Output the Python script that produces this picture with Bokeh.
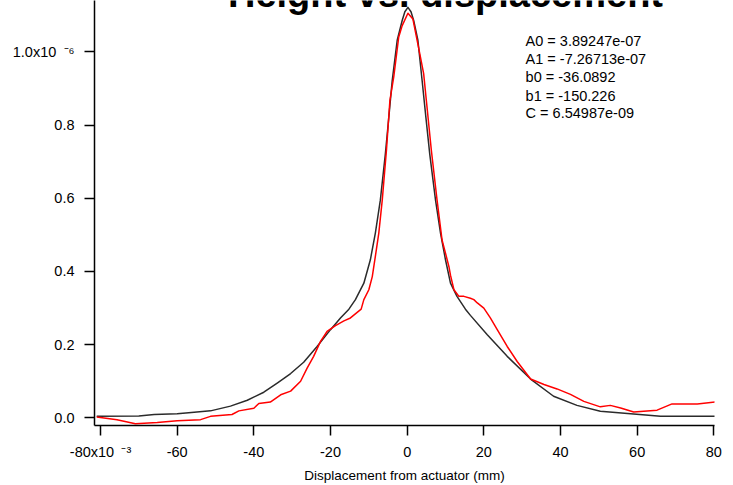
from bokeh.plotting import figure
from bokeh.models import Range1d, FixedTicker, CustomJSTickFormatter, Label
from bokeh.embed import file_html
from bokeh.resources import INLINE

# ---- data (x in mm, y in units of 1e-6) ----
fit_x = [-81, -70, -66, -60, -57, -51.3, -46.1, -41.7, -37.4, -33.9, -30.4, -27, -23.5,
         -20, -17.4, -15.2, -13.5, -11.3, -9.6, -8.3, -7.0, -5.7, -4.8, -3.9, -2.6, -1.3,
         -0.6, 0.2, 1.0, 1.7, 2.8, 3.9, 4.9, 5.9, 7.4, 8.7, 10, 11.3, 13, 15.2, 16.5, 20.9,
         26.1, 32.2, 38.2, 44.3, 50.4, 58.3, 66.1, 80.4]
fit_y = [0.0045, 0.0050, 0.0090, 0.0110, 0.0140, 0.019, 0.032, 0.048, 0.070, 0.095, 0.121,
         0.152, 0.195, 0.241, 0.273, 0.297, 0.323, 0.368, 0.432, 0.505, 0.595, 0.720, 0.820,
         0.922, 1.032, 1.086, 1.110, 1.122, 1.110, 1.086, 1.032, 0.922, 0.820, 0.720, 0.595,
         0.505, 0.432, 0.368, 0.332, 0.297, 0.280, 0.227, 0.168, 0.106, 0.059, 0.034, 0.018,
         0.011, 0.0044, 0.0044]

meas_x = [-81, -75.7, -70.9, -65.2, -60, -53.9, -51.3, -45.7, -43.9, -40, -38.7, -35.7, -33,
          -30.4, -27.8, -26.1, -24.4, -22.6, -20.9, -18.7, -16.5, -14.8, -12, -11.3, -10,
          -9.1, -8.3, -7.4, -6.5, -5.4, -4.5, -3.5, -2.2, -1.3, 0.2, 1.5, 3.3, 4.3, 5.0,
          6.3, 7.8, 9.1, 10, 10.9, 11.3, 12.2, 13.5, 14.8, 16.5, 17.4, 18.3, 20, 21.7,
          23.5, 26.1, 28.7, 32.2, 35.7, 39.1, 42.6, 46.1, 50.4, 53, 55.7, 59.1, 65.2,
          69.1, 75.7, 80.4]
meas_y = [0.002, -0.005, -0.016, -0.013, -0.008, -0.005, 0.004, 0.009, 0.019, 0.026, 0.039,
          0.043, 0.063, 0.073, 0.100, 0.136, 0.168, 0.209, 0.236, 0.252, 0.265, 0.273,
          0.297, 0.323, 0.350, 0.386, 0.441, 0.505, 0.595, 0.732, 0.868, 0.932, 1.041,
          1.072, 1.106, 1.090, 0.995, 0.941, 0.868, 0.732, 0.595, 0.486, 0.450, 0.413,
          0.390, 0.350, 0.332, 0.332, 0.327, 0.323, 0.314, 0.300, 0.273, 0.241, 0.195,
          0.154, 0.106, 0.091, 0.079, 0.064, 0.045, 0.030, 0.034, 0.027, 0.016, 0.021,
          0.038, 0.038, 0.043]

x_ticks = [-80, -60, -40, -20, 0, 20, 40, 60, 80]
y_ticks = [0.0, 0.2, 0.4, 0.6, 0.8, 1.0]

title_text = "Height vs. displacement"
x_title = "Displacement from actuator (mm)"
fit_params = ["A0 = 3.89247e-07", "A1 = -7.26713e-07", "b0 = -36.0892",
              "b1 = -150.226", "C = 6.54987e-09"]

FONT = "Liberation Sans"

p = figure(width=733, height=485, output_backend="svg", toolbar_location=None,
           x_range=Range1d(-81.57, 80.18), y_range=Range1d(-0.021, 1.1407),
           min_border_left=94, min_border_right=19, min_border_top=0, min_border_bottom=59)
p.outline_line_color = None
p.xgrid.visible = False
p.ygrid.visible = False
p.background_fill_color = "white"
p.border_fill_color = "white"

p.line(fit_x, fit_y, line_color="#2b2b2b", line_width=1.5, line_join="round")
p.line(meas_x, meas_y, line_color="#ff0000", line_width=1.5, line_join="round")

for ax in (p.xaxis[0], p.yaxis[0]):
    ax.axis_line_color = "black"
    ax.axis_line_width = 1.5
    ax.major_tick_line_color = "black"
    ax.major_tick_line_width = 1.5
    ax.major_tick_in = 0
    ax.major_tick_out = 10
    ax.minor_tick_line_color = None
    ax.major_label_text_font = FONT
    ax.major_label_text_font_size = "14.5px"
    ax.major_label_text_color = "black"

p.xaxis.ticker = FixedTicker(ticks=x_ticks)
p.yaxis.ticker = FixedTicker(ticks=y_ticks)
p.xaxis.formatter = CustomJSTickFormatter(
    code="return tick <= -79.9 ? tick.toFixed(0) + 'x10\\u2002\\u207B\\u00B3' : tick.toFixed(0);")
p.yaxis.formatter = CustomJSTickFormatter(
    code="return tick >= 0.99 ? tick.toFixed(1) + 'x10\\u2002\\u207B\\u2076' : tick.toFixed(1);")
p.xaxis.major_label_standoff = 8
p.yaxis.major_label_standoff = 10
p.xaxis.axis_label = x_title
p.xaxis.axis_label_text_font = FONT
p.xaxis.axis_label_text_font_size = "13.5px"
p.xaxis.axis_label_text_font_style = "normal"
p.xaxis.axis_label_text_color = "black"
p.xaxis.axis_label_standoff = 5

# title (cut off at the top, as in the reference)
p.add_layout(Label(x=10.0, y=1.1598, text=title_text, text_align="center", text_baseline="middle",
                   text_font=FONT, text_font_size="38px", text_font_style="bold",
                   text_color="black"))

# fit coefficients
ann_y = [1.030, 0.980, 0.931, 0.881, 0.832]
for t, yy in zip(fit_params, ann_y):
    p.add_layout(Label(x=30.9, y=yy, text=t, text_align="left", text_baseline="middle",
                       text_font=FONT, text_font_size="14.5px", text_color="black"))

open("out.html", "w").write(file_html(p, INLINE))
